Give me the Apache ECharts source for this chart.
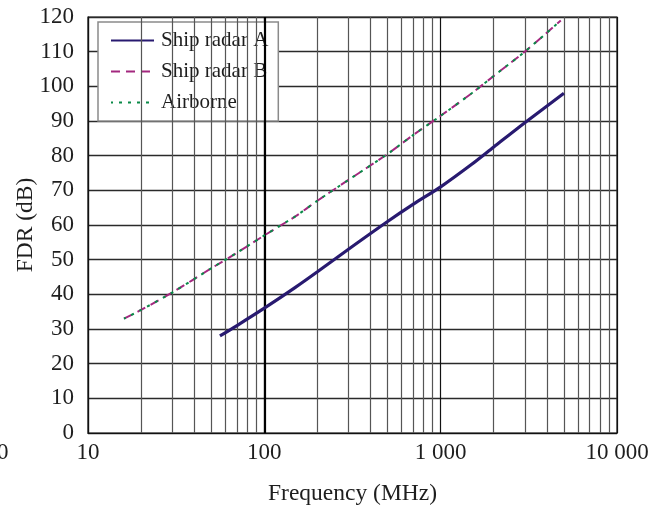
<!DOCTYPE html>
<html>
<head>
<meta charset="utf-8">
<style>
  html, body { margin: 0; padding: 0; background: #fff; }
  #chart { width: 660px; height: 508px; }
</style>
<script src="https://cdn.jsdelivr.net/npm/echarts@6/dist/echarts.min.js"></script>
</head>
<body>
<div id="chart"></div>
<script>
// Frequency-dependent rejection vs. frequency for three radar types
const shipA_freq = [56, 70, 100, 150, 200, 300, 500, 700, 1000, 1500, 2000, 3000, 5000];
const shipA_fdr  = [28, 31, 36, 42, 46.5, 53, 61, 66, 71, 77.5, 82.5, 89.5, 98];

const shipB_freq = [16, 20, 30, 50, 70, 100, 150, 200, 300, 500, 700, 1000, 1500, 2000, 3000, 4800];
const shipB_fdr  = [33, 35.5, 40.5, 47.5, 52, 57, 62.5, 67, 73, 80.5, 86, 91.5, 98, 103, 110, 119];

const airborne_freq = [16, 20, 30, 50, 70, 100, 150, 200, 300, 500, 700, 1000, 1500, 2000, 3000, 4800];
const airborne_fdr  = [33, 35.5, 40.5, 47.5, 52, 57, 62.5, 67, 73, 80.5, 86, 91.5, 98, 103, 110, 119];

const seriesNames = ['Ship radar A', 'Ship radar B', 'Airborne'];
const xTickLabels = { 10: '10', 100: '100', 1000: '1 000', 10000: '10 000' };

// intermediate decade lines (2..9 × 10^n)
const minorFreqs = [];
[10, 100, 1000].forEach(d => { for (let k = 2; k <= 9; k++) minorFreqs.push(k * d); });

const zip = (xs, ys) => xs.map((x, i) => [x, ys[i]]);
const FONT = 'Liberation Serif';
const TXT = '#1e1e1e';

const chart = echarts.init(document.getElementById('chart'), null, { renderer: 'canvas' });
chart.setOption({
  animation: false,
  backgroundColor: '#fff',
  textStyle: { fontFamily: FONT },
  grid: { left: 88, right: 43, top: 17, bottom: 75, containLabel: false,
          outerBoundsMode: 'none',
          show: true, borderColor: '#111', borderWidth: 1.2 },
  legend: {
    orient: 'vertical', left: 98, top: 22,
    backgroundColor: '#fff', borderColor: '#8a8a8a', borderWidth: 1.5,
    padding: [8, 10, 8, 12],
    itemWidth: 43, itemHeight: 14, itemGap: 10,
    itemStyle: { opacity: 0 },
    textStyle: { fontFamily: FONT, fontSize: 21, color: TXT, padding: [0, 0, 0, 2] },
    data: seriesNames
  },
  xAxis: {
    type: 'log', logBase: 10, min: 10, max: 10000,
    name: 'Frequency (MHz)', nameLocation: 'middle', nameGap: 49,
    nameMoveOverlap: false,
    nameTextStyle: { fontFamily: FONT, fontSize: 23.5, color: TXT },
    axisLine: { show: true, lineStyle: { color: '#111', width: 1.2 } },
    axisTick: { show: false },
    axisLabel: { fontFamily: FONT, fontSize: 23, color: TXT, margin: 8,
                 formatter: v => xTickLabels[Math.round(v)] || '' },
    splitLine: { show: true, lineStyle: { color: '#111', width: 1.2 } }
  },
  yAxis: {
    type: 'value', min: 0, max: 120, interval: 10,
    name: 'FDR (dB)', nameLocation: 'middle', nameGap: 50, nameRotate: 90,
    nameMoveOverlap: false,
    nameTextStyle: { fontFamily: FONT, fontSize: 23.5, color: TXT },
    axisLine: { show: true, lineStyle: { color: '#111', width: 1.2 } },
    axisTick: { show: false },
    axisLabel: { fontFamily: FONT, fontSize: 23, color: TXT, margin: 14 },
    splitLine: { show: true, lineStyle: { color: '#2a2a2a', width: 1.3 } }
  },
  graphic: [
    { type: 'text', left: -3, top: 441,
      style: { text: '0', font: '23px "Liberation Serif"', fill: TXT } }
  ],
  series: [
    {
      name: 'Ship radar A', type: 'line', symbol: 'none', smooth: 0.3, z: 5,
      data: zip(shipA_freq, shipA_fdr),
      lineStyle: { color: '#281a70', width: 3.2 },
      itemStyle: { color: '#281a70' },
      markLine: {
        silent: true, symbol: 'none', label: { show: false },
        lineStyle: { type: 'solid', color: '#555', width: 1.2 },
        data: minorFreqs.map(f => ({ xAxis: f }))
          .concat([{ xAxis: 100, lineStyle: { color: '#000', width: 2.2 } }])
      }
    },
    {
      name: 'Ship radar B', type: 'line', symbol: 'none', smooth: 0.3, z: 6,
      data: zip(shipB_freq, shipB_fdr),
      lineStyle: { color: '#a3287f', width: 2, type: [9, 6] },
      itemStyle: { color: '#a3287f' }
    },
    {
      name: 'Airborne', type: 'line', symbol: 'none', smooth: 0.3, z: 7,
      data: zip(airborne_freq, airborne_fdr),
      lineStyle: { color: '#0a8a48', width: 2, type: [3, 6], dashOffset: 10 },
      itemStyle: { color: '#0a8a48' }
    }
  ]
});
</script>
</body>
</html>
